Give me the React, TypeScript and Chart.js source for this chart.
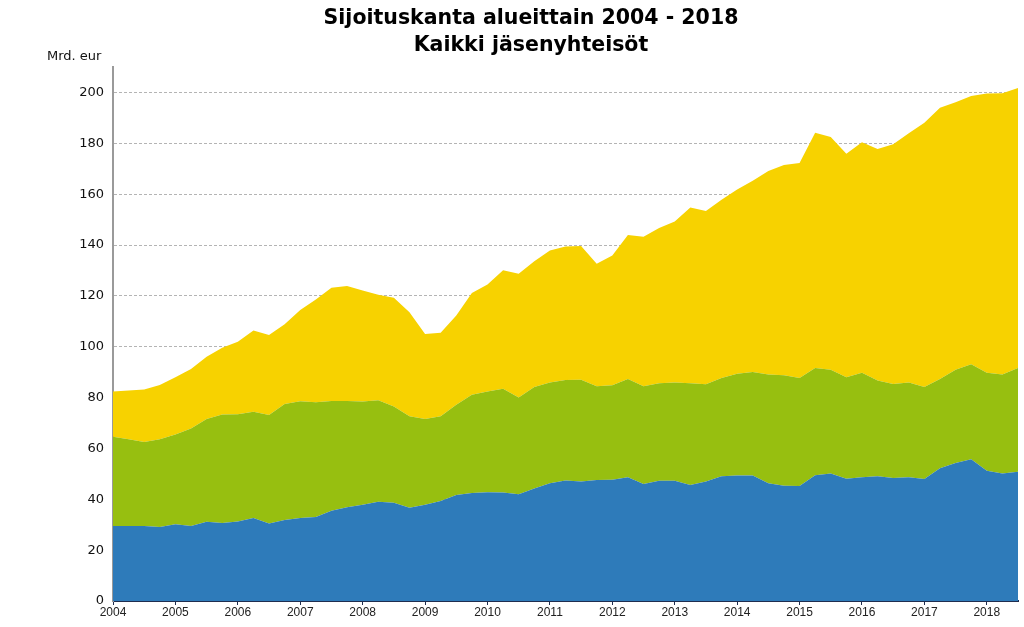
import React, { useEffect, useRef } from "react";
import { Chart, registerables } from "chart.js";

Chart.register(...registerables);

const years = ["2004", "2005", "2006", "2007", "2008", "2009", "2010", "2011", "2012", "2013", "2014", "2015", "2016", "2017", "2018"];
const quarters = ["Q1", "Q2", "Q3", "Q4"];
const categories: string[] = [];
years.forEach((y) => quarters.forEach((q) => categories.push(y + q)));
const labels = categories.slice(0, 59);

const yTicks = [0, 20, 40, 60, 80, 100, 120, 140, 160, 180, 200];

const blueValues = [
  29.5, 29.5, 29.5, 29.1, 30.2, 29.5, 31.2, 30.7, 31.3, 32.6, 30.5, 31.9, 32.6, 33.0, 35.5, 36.9, 37.9, 39.0, 38.6, 36.7,
  37.9, 39.3, 41.7, 42.5, 42.8, 42.7, 42.0, 44.2, 46.3, 47.4, 47.0, 47.6, 47.7, 48.7, 46.0, 47.3, 47.3, 45.6, 47.0, 49.1,
  49.4, 49.4, 46.3, 45.3, 45.2, 49.5, 50.1, 48.1, 48.7, 49.1, 48.4, 48.7, 48.0, 52.2, 54.3, 55.7, 51.2, 50.1, 50.8,
];
const greenValues = [
  35.1, 34.1, 33.0, 34.5, 35.3, 38.3, 40.4, 42.6, 42.1, 41.8, 42.6, 45.6, 46.0, 45.2, 43.2, 41.8, 40.6, 39.9, 37.9, 36.0,
  33.7, 33.4, 35.5, 38.6, 39.6, 40.8, 38.0, 40.0, 39.6, 39.5, 40.0, 36.9, 37.1, 38.6, 38.5, 38.3, 38.6, 40.0, 38.2, 38.6,
  40.0, 40.7, 42.8, 43.5, 42.5, 42.1, 40.8, 39.9, 41.1, 37.6, 36.9, 37.2, 36.2, 35.1, 36.6, 37.4, 38.6, 39.0, 40.8,
];
const yellowValues = [
  17.8, 19.2, 20.7, 21.3, 22.5, 23.4, 24.5, 26.3, 28.6, 32.0, 31.5, 31.3, 35.8, 40.4, 44.5, 45.2, 43.6, 41.5, 42.8, 40.9,
  33.4, 32.8, 35.1, 40.0, 42.1, 46.6, 48.7, 49.4, 51.9, 52.5, 52.6, 48.1, 51.1, 56.6, 58.7, 61.1, 63.3, 69.1, 68.2, 70.1,
  72.4, 75.2, 80.0, 82.7, 84.5, 92.5, 91.6, 87.9, 90.6, 91.1, 94.3, 98.0, 103.9, 106.7, 105.2, 105.5, 109.8, 110.6, 110.1,
];

const BLUE = "rgb(46,123,186)";
const GREEN = "rgb(151,191,16)";
const YELLOW = "rgb(247,210,0)";

export default function App() {
  const ref = useRef<HTMLCanvasElement | null>(null);

  useEffect(() => {
    if (!ref.current) return;
    const mk = (label: string, data: number[], color: string, fill: any) => ({
      label,
      data,
      backgroundColor: color,
      borderColor: color,
      borderWidth: 0,
      pointRadius: 0,
      tension: 0,
      fill,
    });
    const chart = new Chart(ref.current, {
      type: "line",
      data: {
        labels,
        datasets: [
          mk("A", blueValues, BLUE, "origin"),
          mk("B", greenValues, GREEN, "-1"),
          mk("C", yellowValues, YELLOW, "-1"),
        ],
      },
      options: {
        animation: false,
        responsive: false,
        maintainAspectRatio: false,
        layout: { padding: { left: 0, right: 6, top: 67, bottom: 0 } },
        plugins: {
          legend: { display: false },
          tooltip: { enabled: false },
          title: { display: false },
        },
        scales: {
          x: {
            type: "category",
            offset: false,
            grid: {
              display: true,
              drawOnChartArea: false,
              drawTicks: true,
              tickLength: 4,
              color: (ctx: any) => (ctx.index % 4 === 0 ? "#1f2d4f" : "rgba(0,0,0,0)"),
              lineWidth: 1,
            },
            border: { display: true, color: "#1f2d4f", width: 2 },
            ticks: {
              autoSkip: false,
              maxRotation: 0,
              minRotation: 0,
              padding: 0,
              color: "#222",
              font: { family: "'Liberation Sans', Arial, sans-serif", size: 12 },
              callback: (_v: any, i: number) => (i % 4 === 0 ? years[i / 4] : ""),
            },
            afterFit: (s: any) => {
              s.height = 26;
            },
          },
          y: {
            stacked: true,
            min: 0,
            max: 210,
            afterBuildTicks: (s: any) => {
              s.ticks = yTicks.map((v) => ({ value: v }));
            },
            grid: {
              drawTicks: false,
              color: (ctx: any) => (ctx.tick && ctx.tick.value === 0 ? "rgba(0,0,0,0)" : "#b4b4b4"),
              lineWidth: 1,
            },
            border: { display: true, color: "#9a9a9a", width: 2, dash: [3, 2], dashOffset: 0 },
            ticks: {
              padding: 9,
              color: "#111",
              font: { family: "'DejaVu Sans', Verdana, sans-serif", size: 13 },
            },
            afterFit: (s: any) => {
              s.width = 113;
            },
          },
        },
      } as any,
    });
    return () => chart.destroy();
  }, []);

  return (
    <div style={{ position: "fixed", left: 0, top: 0, width: 1024, height: 627, background: "#fff" }}>
      <canvas ref={ref} width={1024} height={627} style={{ position: "absolute", left: 0, top: 0, width: 1024, height: 627 }} />
      <div
        style={{
          position: "absolute",
          left: 0,
          top: 4,
          width: 1062,
          textAlign: "center",
          fontFamily: "'DejaVu Sans', Verdana, sans-serif",
          fontWeight: "bold",
          fontSize: 20.5,
          lineHeight: "27px",
          color: "#000",
        }}
      >
        <div>Sijoituskanta alueittain 2004 - 2018</div>
        <div>Kaikki jäsenyhteisöt</div>
      </div>
      <div
        style={{
          position: "absolute",
          left: 47,
          top: 48,
          fontFamily: "'DejaVu Sans', Verdana, sans-serif",
          fontSize: 13,
          color: "#111",
        }}
      >
        Mrd. eur
      </div>
    </div>
  );
}
